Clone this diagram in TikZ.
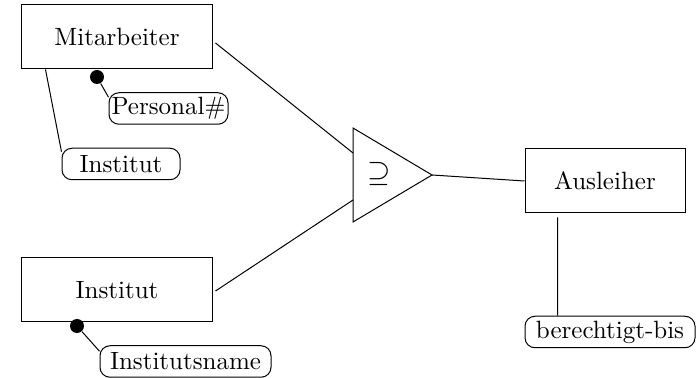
\documentclass[tikz,border=0pt]{standalone}
\usepackage{amsmath, amssymb}
\usepackage{tikz}
\usetikzlibrary{calc}

\tikzset{
  entity/.style = {draw, rectangle, minimum width = 76pt, minimum height = 25.6pt, inner sep = 0pt},
  attrib/.style = {draw, rectangle, rounded corners = 4pt, minimum height = 12.6pt, inner sep = 0pt},
  keydot/.style = {circle, fill, inner sep = 0pt, minimum size = 5.6pt}
}

\begin{document}
\begin{tikzpicture}[x = 0.4pt, y = -0.4pt]
\useasboundingbox (0,0) rectangle (699,378);

\node[entity] (mit) at (117,37) {Mitarbeiter};
\node[entity] (inst) at (117,290) {Institut};
\node[entity, minimum width = 64pt] (ausl) at (605,181) {Ausleiher};

\node[attrib, minimum width = 47.6pt] (pers) at (168.5,108.5) {Personal\#};
\node[attrib, minimum width = 47.2pt] (instatt) at (121,164) {Institut};
\node[attrib, minimum width = 68.4pt] (iname) at (185.5,361.5) {Institutsname};
\node[attrib, minimum width = 68pt] (bis) at (610,332) {berechtigt-bis};

\node[keydot] (mitdot) at (97,77) {};
\node[keydot] (instdot) at (77,326) {};

\coordinate (ttop) at (353,128);
\coordinate (tbot) at (353,222);
\coordinate (tapex) at (432,175);
\coordinate (tin1) at (353,153);
\coordinate (tin2) at (353,200);
\draw (ttop) -- (tapex) -- (tbot) -- cycle;
\node (sub) at (379,174) {\large $\supseteq$};

\draw ($(mit.east)+(3,6)$) -- (tin1);
\draw ($(inst.east)+(3,1)$) -- (tin2);
\draw (tapex) -- (ausl.west);

\draw ($(mit.south west)+(24,0)$) -- ($(instatt.north west)+(0,4)$);
\draw (mitdot) -- ($(pers.north west)+(0,5)$);
\draw (instdot) -- ($(iname.north west)+(0,6)$);
\draw ($(ausl.south west)+(33,4)$) -- ($(bis.north west)+(33,0)$);
\end{tikzpicture}
\end{document}
